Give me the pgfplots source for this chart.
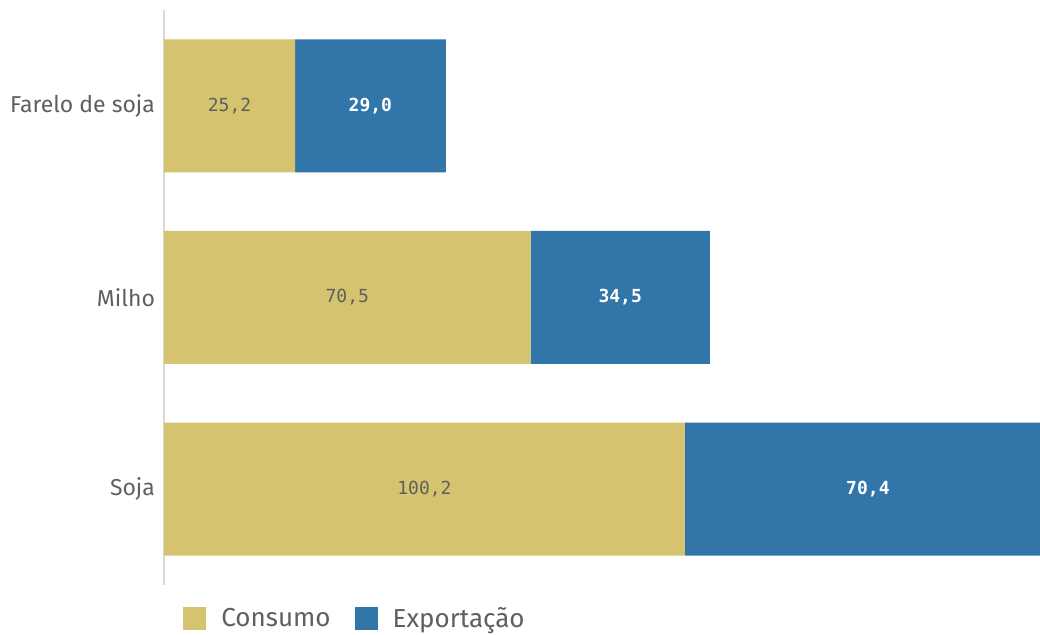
\documentclass[border=0pt]{standalone}
\usepackage{pgfplots}
\pgfplotsset{compat=1.18}
\usepackage{pgfplotstable}
\usepackage{fontspec}
\setmainfont{Fira Sans}
\newfontfamily\numfont{DejaVu Sans Mono}
\definecolor{qgold}{HTML}{D5C36F}
\definecolor{qblue}{HTML}{3175A9}
\definecolor{txt}{HTML}{5F5F5F}
\pgfplotstableread{
y cons exp
0 100.2 70.4
1 70.5 34.5
2 25.2 29.0
}\data
\begin{document}
\begin{tikzpicture}
\useasboundingbox (0,0) rectangle (520pt,317.5pt);
\begin{axis}[
  at={(82pt,25pt)}, anchor=south west, scale only axis,
  width=438pt, height=287.5pt,
  xmin=0, xmax=168.5, ymin=-0.5, ymax=2.5,
  clip=false,
  xbar stacked, bar width=66.5pt,
  axis x line=none, axis y line*=left,
  y axis line style={draw=black!15, line width=1pt},
  ytick={0,1,2}, yticklabels={Soja,Milho,Farelo de soja},
  major tick length=0pt,
  yticklabel style={text=txt, font=\fontsize{11.5}{13}\selectfont, xshift=-1pt},
  nodes near coords,
  nodes near coords style={font=\numfont\fontsize{9}{11}\selectfont},
  legend image code/.code={\fill[#1] (0pt,-5.75pt) rectangle (11.5pt,5.75pt);},
  legend columns=-1,
  legend style={at={(0.0217,0)}, anchor=north west, yshift=-9pt, draw=none, inner sep=0pt,
    font=\fontsize{13}{15}\selectfont, text=txt,
    /tikz/every odd column/.append style={column sep=5.5pt},
    /tikz/every even column/.append style={column sep=10pt}},
  /pgf/number format/.cd, use comma, fixed, fixed zerofill, precision=1, assume math mode=true
]
\addplot[fill=qgold, draw=none, every node near coord/.append style={text=txt}] table[x=cons, y=y] {\data};
\addplot[fill=qblue, draw=none, every node near coord/.append style={text=white, font=\numfont\bfseries\fontsize{9}{11}\selectfont}] table[x=exp, y=y] {\data};
\legend{Consumo, Exportação}
\end{axis}
\end{tikzpicture}
\end{document}
